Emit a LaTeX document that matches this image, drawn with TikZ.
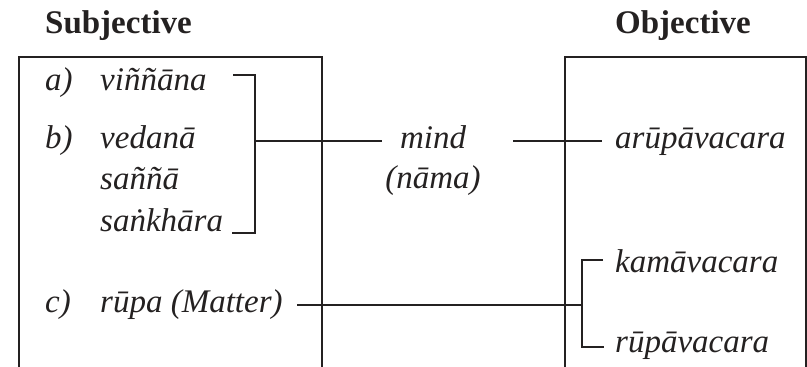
\documentclass[tikz,border=0pt]{standalone}
\usepackage{fontspec}
\setmainfont{Liberation Serif}
\definecolor{ink}{rgb}{0.14,0.13,0.13}
\begin{document}
\begin{tikzpicture}[x=1pt,y=-1pt,
  lbl/.style={anchor=base west, inner sep=0pt, text=ink, font=\fontsize{33}{40}\selectfont\itshape},
  head/.style={anchor=base west, inner sep=0pt, text=ink, font=\fontsize{33}{40}\selectfont\bfseries},
  wire/.style={draw=ink, line width=2pt},
  frame/.style={draw=ink, line width=2.2pt}]
\useasboundingbox (0,0) rectangle (807,367);
% headings
\node[head] (subj) at (45,33) {Subjective};
\node[head] (obj) at (615,33) {Objective};
% boxes
\coordinate (lbBL) at (19,370);
\coordinate (lbTL) at (19,57);
\coordinate (lbTR) at (322,57);
\coordinate (lbBR) at (322,370);
\draw[frame] (lbBL) -- (lbTL) -- (lbTR) -- (lbBR);
\coordinate (rbBL) at (565,370);
\coordinate (rbTL) at (565,57);
\coordinate (rbTR) at (806,57);
\coordinate (rbBR) at (806,370);
\draw[frame] (rbBL) -- (rbTL) -- (rbTR) -- (rbBR);
% left texts
\node[lbl] (la) at (45,90) {a)};
\node[lbl] (ta) at (100,90) {viññāna};
\node[lbl] (lb) at (45,148) {b)};
\node[lbl] (tb) at (100,148) {vedanā};
\node[lbl] (tb2) at (100,189) {saññā};
\node[lbl] (tb3) at (100,231) {saṅkhāra};
\node[lbl] (lc) at (45,312) {c)};
\node[lbl] (tc) at (100,312) {rūpa (Matter)};
% middle
\node[lbl,anchor=base] (mind) at (433,148) {mind};
\node[lbl,anchor=base] (nama) at (433,188) {(nāma)};
% right texts
\node[lbl] (aru) at (615,148) {arūpāvacara};
\node[lbl] (kam) at (615,272) {kamāvacara};
\node[lbl] (rup) at (615,352) {rūpāvacara};
% left bracket
\coordinate (b1) at (233,75);
\coordinate (b2) at (255,75);
\coordinate (b3) at (255,233);
\coordinate (b4) at (232,233);
\coordinate (bm) at (255,141);
\coordinate (mL) at (382,141);
\coordinate (mR) at (513,141);
\coordinate (aL) at (602,141);
\draw[wire] (b1) -- (b2) -- (b3) -- (b4);
\draw[wire] (bm) -- (mL);
\draw[wire] (mR) -- (aL);
% matter line and right bracket
\coordinate (cR) at (297,305);
\coordinate (rm) at (582,305);
\coordinate (r1) at (603,260);
\coordinate (r2) at (582,260);
\coordinate (r3) at (582,347);
\coordinate (r4) at (604,347);
\draw[wire] (cR) -- (rm);
\draw[wire] (r1) -- (r2) -- (r3) -- (r4);
\end{tikzpicture}
\end{document}
